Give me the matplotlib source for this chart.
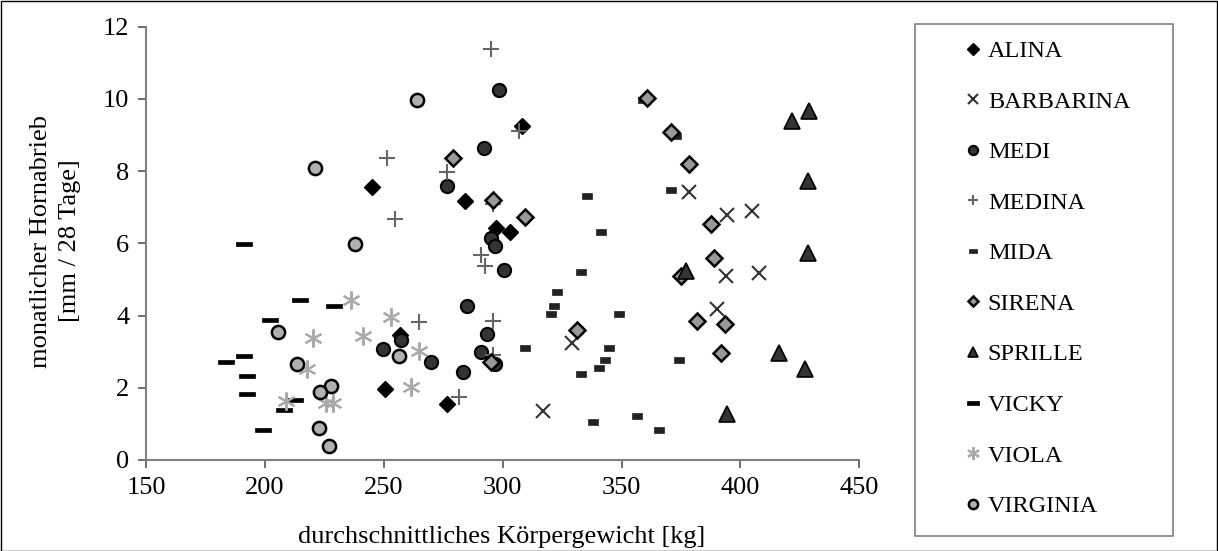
import matplotlib
matplotlib.use("Agg")
import matplotlib.pyplot as plt
from matplotlib.path import Path
from matplotlib.patches import Rectangle

plt.rcParams['font.family'] = ['Liberation Serif', 'DejaVu Serif']

# ---- data (body weight kg, monthly horn abrasion mm/28 days) ----
alina_x = [245, 284, 308, 297, 303, 257, 250.5, 276.4]
alina_y = [7.57, 7.17, 9.25, 6.42, 6.31, 3.45, 1.97, 1.54]

barbarina_x = [378.5, 394.5, 404.7, 393.9, 407.9, 390.2, 329, 317.1]
barbarina_y = [7.41, 6.79, 6.9, 5.08, 5.19, 4.19, 3.25, 1.37]

medi_x = [298.3, 292.3, 276.4, 295.1, 296.8, 300.7, 284.9, 293.3, 249.8, 257.1, 269.7, 290.7, 296.8, 283.2]
medi_y = [10.24, 8.64, 7.59, 6.14, 5.93, 5.26, 4.27, 3.49, 3.07, 3.32, 2.71, 2.99, 2.66, 2.44]

medina_x = [251.2, 254.7, 295.1, 306.9, 276.4, 296, 290.9, 292.6, 264.8, 295.9, 296, 281.6]
medina_y = [8.36, 6.68, 11.39, 9.11, 7.96, 7.08, 5.68, 5.36, 3.81, 3.86, 2.91, 1.75]

mida_x = [335.4, 341.2, 332.9, 322.8, 321.8, 320.2, 348.9, 309.4, 344.6, 343, 340.4, 332.9, 337.8,
          359.1, 373.1, 370.8, 374.1, 356.3, 365.7]
mida_y = [7.31, 6.32, 5.2, 4.65, 4.27, 4.04, 4.04, 3.09, 3.09, 2.77, 2.55, 2.38, 1.05,
          9.97, 8.97, 7.47, 2.77, 1.22, 0.82]

sirena_x = [279, 296, 309.4, 295.1, 331.1, 360.8, 370.8, 378.5, 387.6, 388.7, 375, 381.8, 393.6, 391.9]
sirena_y = [8.36, 7.19, 6.74, 2.71, 3.6, 10.01, 9.07, 8.19, 6.53, 5.59, 5.10, 3.86, 3.76, 2.97]

sprille_x = [421.5, 428.9, 428.3, 428.3, 377, 416.3, 427.3, 394.3]
sprille_y = [9.39, 9.67, 7.73, 5.73, 5.24, 2.96, 2.53, 1.27]

vicky_x = [191.1, 214.8, 229.1, 202.1, 191.1, 183.5, 192.6, 192.6, 212.8, 208, 199.3]
vicky_y = [5.99, 4.42, 4.27, 3.87, 2.88, 2.71, 2.32, 1.82, 1.65, 1.38, 0.82]

viola_x = [236.2, 253, 264.8, 261.4, 220.4, 241.4, 217.8, 208.7, 225.6, 228.8]
viola_y = [4.42, 3.97, 3.03, 2.03, 3.37, 3.42, 2.51, 1.64, 1.59, 1.59]

virginia_x = [220.9, 237.9, 263.8, 205.6, 213.4, 227.7, 223.3, 222.6, 226.8, 256.4]
virginia_y = [8.09, 5.98, 9.96, 3.55, 2.66, 2.05, 1.88, 0.89, 0.39, 2.87]

names = ["ALINA", "BARBARINA", "MEDI", "MEDINA", "MIDA", "SIRENA", "SPRILLE", "VICKY", "VIOLA", "VIRGINIA"]
x_ticks = [150, 200, 250, 300, 350, 400, 450]
y_ticks = [0, 2, 4, 6, 8, 10, 12]

# ---- marker shapes ----
mida_marker = Path([(-1, -0.5), (1, -0.5), (1, 0.5), (-1, 0.5), (-1, -0.5)],
                   [Path.MOVETO, Path.LINETO, Path.LINETO, Path.LINETO, Path.CLOSEPOLY])
vicky_marker = Path([(-1.5, -0.45), (1.5, -0.45), (1.5, 0.45), (-1.5, 0.45), (-1.5, -0.45)],
                    [Path.MOVETO, Path.LINETO, Path.LINETO, Path.LINETO, Path.CLOSEPOLY])

styles = [
    dict(marker='D', ms=8.5, mfc='black', mec='black', mew=1),
    dict(marker='x', ms=10, mfc='none', mec='#333333', mew=1.5),
    dict(marker='o', ms=9.5, mfc='#333333', mec='black', mew=1.5),
    dict(marker='+', ms=11, mfc='none', mec='#666666', mew=1.5),
    dict(marker=mida_marker, ms=7.5, mfc='#222222', mec='#222222', mew=0.5),
    dict(marker='D', ms=8, mfc='#999999', mec='black', mew=1.8),
    dict(marker='^', ms=11, mfc='#333333', mec='black', mew=1.2),
    dict(marker=vicky_marker, ms=11.5, mfc='black', mec='black', mew=0.5),
    dict(marker=(6, 2, 0), ms=13, mfc='none', mec='#aaaaaa', mew=1.5),
    dict(marker='o', ms=9.5, mfc='#b0b0b0', mec='black', mew=1.8),
]
series = [(alina_x, alina_y), (barbarina_x, barbarina_y), (medi_x, medi_y), (medina_x, medina_y),
          (mida_x, mida_y), (sirena_x, sirena_y), (sprille_x, sprille_y), (vicky_x, vicky_y),
          (viola_x, viola_y), (virginia_x, virginia_y)]

fig = plt.figure(figsize=(12.18, 5.51), dpi=100)
ax = fig.add_axes([146 / 1218, 1 - 460 / 551, (859.3 - 146) / 1218, (460 - 26.5) / 551])

handles = []
for (xs, ys), st, nm in zip(series, styles, names):
    ln, = ax.plot(xs, ys, linestyle='none', label=nm, **st)
    handles.append(ln)

ax.set_xlim(150, 450)
ax.set_ylim(0, 12)
ax.set_xticks(x_ticks)
ax.set_yticks(y_ticks)
for s in ['top', 'right']:
    ax.spines[s].set_visible(False)
for s in ['left', 'bottom']:
    ax.spines[s].set_color('#808080')
    ax.spines[s].set_linewidth(1.5)
ax.tick_params(direction='out', length=6, width=1.2, color='#555555', labelsize=19, pad=6)

ax.set_xlabel("durchschnittliches Körpergewicht [kg]", fontsize=19)
ax.xaxis.set_label_coords(0.499, -0.177)
ax.xaxis.label.set_va('center')
ax.set_ylabel("monatlicher Hornabrieb\n[mm / 28 Tage]", fontsize=19, linespacing=1.38)
ax.yaxis.set_label_coords(-0.127, 0.505)
ax.yaxis.label.set_va('center')

# legend frame
fig.add_artist(Rectangle((915 / 1218, 1 - 536 / 551), (1173 - 915) / 1218, (536 - 24) / 551,
                         transform=fig.transFigure, fill=False, edgecolor='#808080', linewidth=1.2))
leg = fig.legend(handles=handles, loc='upper left', bbox_to_anchor=(965.5 / 1218, 1 - 40 / 551),
                 frameon=False, fontsize=17.5, markerscale=0.7, handlelength=0.6,
                 handletextpad=0.32, labelspacing=1.175, borderpad=0, borderaxespad=0)

# outer border
fig.add_artist(Rectangle((0.5 / 1218, 0.5 / 551), 1 - 1.5 / 1218, 1 - 1.5 / 551,
                         transform=fig.transFigure, fill=False, edgecolor='black', linewidth=1.0))

fig.savefig("out.png", dpi=100)
